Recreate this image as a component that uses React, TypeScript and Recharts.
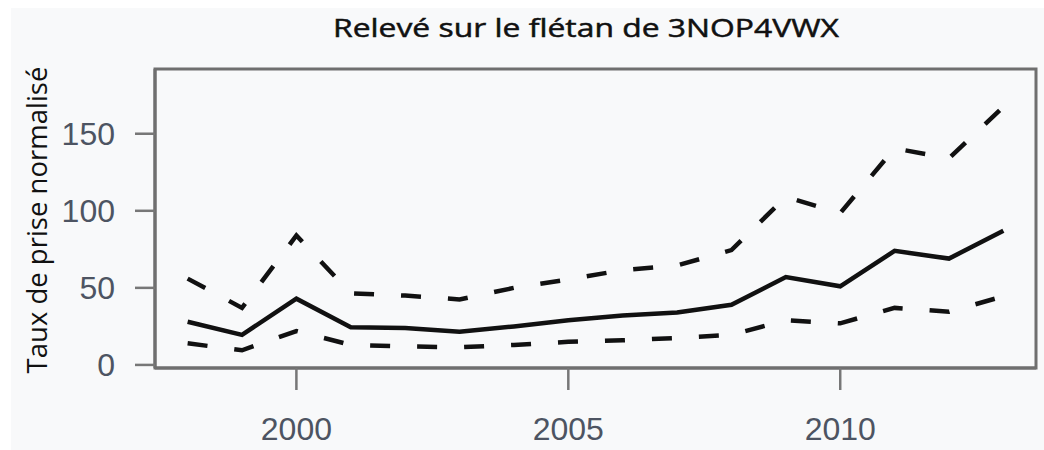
import React from "react";
import { LineChart, Line, XAxis, YAxis, ReferenceArea } from "recharts";

const years = [1998, 1999, 2000, 2001, 2002, 2003, 2004, 2005, 2006, 2007, 2008, 2009, 2010, 2011, 2012, 2013];
const meanIndex = [28, 19.5, 43, 24.5, 24, 21.5, 25, 29, 32, 34, 39, 57, 51, 74, 69, 87];
const upperBound = [56, 37, 84, 46.5, 45, 42.5, 50, 55.5, 61.5, 64.5, 74.5, 109, 98.5, 140.5, 134, 167.5];
const lowerBound = [14, 9.5, 22, 13, 12, 11.5, 13, 15, 16, 17.5, 19.5, 29, 27, 37, 34.5, 44.5];
const xTicks = [2000, 2005, 2010];
const yTicks = [0, 50, 100, 150];
const xDomain = [1997.4, 2013.6];
const yDomain = [-2, 192];
const title = "Relevé sur le flétan de 3NOP4VWX";
const yLabel = "Taux de prise normalisé";

const data = years.map((year, i) => ({
  year,
  mean: meanIndex[i],
  upper: upperBound[i],
  lower: lowerBound[i],
}));

const tickStyle = { fontFamily: "'Liberation Sans', Arial, sans-serif", fontSize: 32, fill: "#4d5462" };
const boxStroke = { stroke: "#6f6f6f", strokeWidth: 3 };

const YLabelContent = () => (
  <text
    x={47}
    y={220}
    transform="rotate(-90, 47, 220)"
    textAnchor="middle"
    style={{ fontFamily: "'Open Sans', sans-serif", fontSize: 27.5, fill: "#111" }}
  >
    {yLabel}
  </text>
);

export default function App() {
  return (
    <div style={{ position: "absolute", left: 0, top: 0, width: 1044, height: 450, background: "#ffffff", overflow: "hidden" }}>
      <div style={{ position: "absolute", left: 11, top: 8, right: 0, bottom: 0, background: "#f8f9fa" }} />
      <svg style={{ position: "absolute", left: 0, top: 0 }} width={1044} height={60}>
        <text
          x={586}
          y={37}
          textAnchor="middle"
          textLength={506}
          lengthAdjust="spacingAndGlyphs"
          stroke="#111"
          strokeWidth={0.5}
          style={{ fontFamily: "'Open Sans', sans-serif", fontSize: 26, fill: "#111" }}
        >
          {title}
        </text>
      </svg>
      <div style={{ position: "absolute", left: 0, top: 0 }}>
        <LineChart width={1044} height={450} data={data} margin={{ top: 69, right: 8, bottom: 22, left: 95 }}>
          <XAxis
            dataKey="year"
            type="number"
            domain={xDomain}
            allowDataOverflow
            ticks={xTicks}
            height={60}
            tickSize={22}
            tickMargin={27}
            tick={tickStyle}
            tickLine={{ stroke: "#777", strokeWidth: 2.5 }}
            axisLine={boxStroke}
          />
          <YAxis
            type="number"
            domain={yDomain}
            allowDataOverflow
            ticks={yTicks}
            width={60}
            tickSize={20}
            tickMargin={20}
            tick={tickStyle}
            tickLine={{ stroke: "#777", strokeWidth: 2.5 }}
            axisLine={boxStroke}
            label={<YLabelContent />}
          />
          <ReferenceArea
            x1={xDomain[0]}
            x2={xDomain[1]}
            y1={yDomain[0]}
            y2={yDomain[1]}
            fill="none"
            fillOpacity={0}
            stroke="#6f6f6f"
            strokeWidth={3}
            ifOverflow="visible"
          />
          <Line type="linear" dataKey="upper" stroke="#111" strokeWidth={4.5} strokeDasharray="20 27" dot={false} isAnimationActive={false} />
          <Line type="linear" dataKey="lower" stroke="#111" strokeWidth={4.5} strokeDasharray="20 27" dot={false} isAnimationActive={false} />
          <Line type="linear" dataKey="mean" stroke="#111" strokeWidth={4.5} dot={false} isAnimationActive={false} />
        </LineChart>
      </div>
    </div>
  );
}
